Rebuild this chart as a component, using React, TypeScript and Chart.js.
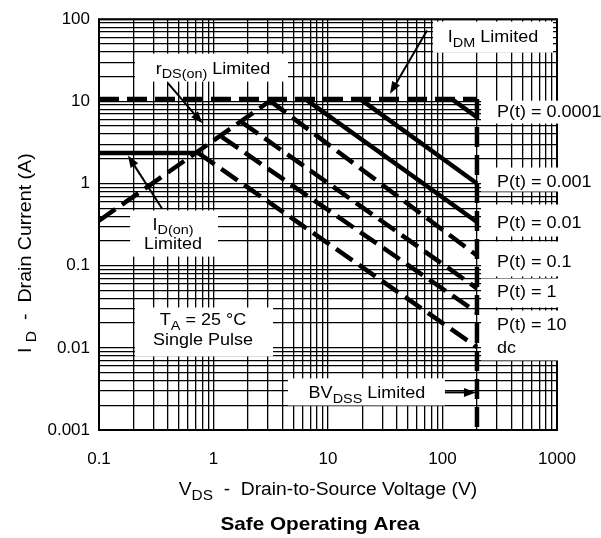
import React, { useEffect, useRef } from 'react';
import { Chart, registerables } from 'chart.js';

Chart.register(...registerables);

const FONT = '"Liberation Sans", Arial, Helvetica, sans-serif';

// ---------- axes ----------
const xMin = 0.1;
const xMax = 1000;
const yMin = 0.001;
const yMax = 100;
const xTickLabels = [0.1, 1, 10, 100, 1000];
const yTickLabels = [0.001, 0.01, 0.1, 1, 10, 100];
const gridSteps = [1, 2, 3, 4, 5, 6, 7, 8, 9];

// ---------- series (VDS in V, ID in A) ----------
const idmV = [0.1, 200];
const idmI = [10.7, 10.7];
const bvdssV = [200, 200];
const bvdssI = [10.7, 0.001];
const rdsV = [0.1, 3.3];
const rdsI = [0.353, 10.7];
const idonV = [0.1, 0.735];
const idonI = [2.36, 2.36];
const p00001V = [120, 200];
const p00001I = [10.7, 6.4];
const p0001V = [19, 200];
const p0001I = [10.7, 1.0];
const p001V = [6.3, 200];
const p001I = [10.7, 0.34];
const p01V = [3.1, 200];
const p01I = [10.2, 0.133];
const p1V = [1.76, 200];
const p1I = [5.6, 0.053];
const p10V = [1.18, 200];
const p10I = [3.7, 0.027];
const dcV = [0.735, 200];
const dcI = [2.36, 0.0102];

// ---------- right-hand P(t) labels ----------
const pLabels = ['P(t) = 0.0001', 'P(t) = 0.001', 'P(t) = 0.01', 'P(t) = 0.1', 'P(t) = 1', 'P(t) = 10', 'dc'];
const pLabelI = [7.73, 1.088, 0.345, 0.1157, 0.0499, 0.0198, 0.0104];
const pLabelV = 299;
const pBoxV = [217, 2421];
const pBoxTop = [10.2, 1.565, 0.555, 0.197, 0.0699, 0.0285];
const pBoxBottom = [5.37, 0.799, 0.2265, 0.0739, 0.031, 0.00703];

type Part = { t: string; sub?: boolean };

const series: { v: number[]; i: number[]; dashed: boolean }[] = [
  { v: idmV, i: idmI, dashed: true },
  { v: bvdssV, i: bvdssI, dashed: true },
  { v: rdsV, i: rdsI, dashed: true },
  { v: idonV, i: idonI, dashed: false },
  { v: p00001V, i: p00001I, dashed: false },
  { v: p0001V, i: p0001I, dashed: false },
  { v: p001V, i: p001I, dashed: false },
  { v: p01V, i: p01I, dashed: true },
  { v: p1V, i: p1I, dashed: true },
  { v: p10V, i: p10I, dashed: true },
  { v: dcV, i: dcI, dashed: true },
];

// annotation boxes / texts / arrows, in data coordinates (V, A)
const boxes: { v: number[]; i: number[] }[] = [
  { v: [0.206, 4.47], i: [17.4, 38.1] }, // rDS(on)
  { v: [82.6, 923], i: [39.2, 93.5] }, // IDM
  { v: [0.187, 1.094], i: [0.129, 0.47] }, // ID(on)
  { v: [0.206, 3.31], i: [0.00786, 0.031] }, // TA
  { v: [4.47, 105], i: [0.00199, 0.00425] }, // BVDSS
];

const texts: { parts: Part[]; v: number; i: number }[] = [
  { parts: [{ t: 'r' }, { t: 'DS(on)', sub: true }, { t: ' Limited' }], v: 0.99, i: 25.8 },
  { parts: [{ t: 'I' }, { t: 'DM', sub: true }, { t: ' Limited' }], v: 276, i: 62.3 },
  { parts: [{ t: 'I' }, { t: 'D(on)', sub: true }], v: 0.443, i: 0.326 },
  { parts: [{ t: 'Limited' }], v: 0.443, i: 0.1915 },
  { parts: [{ t: 'T' }, { t: 'A', sub: true }, { t: ' = 25 °C' }], v: 0.81, i: 0.0222 },
  { parts: [{ t: 'Single Pulse' }], v: 0.81, i: 0.0127 },
  { parts: [{ t: 'BV' }, { t: 'DSS', sub: true }, { t: ' Limited' }], v: 21.9, i: 0.00287 },
];

const arrows: { from: number[]; to: number[] }[] = [
  { from: [0.4, 16.7], to: [0.8, 5.4] },
  { from: [0.355, 0.496], to: [0.179, 2.19] },
  { from: [73.2, 72.7], to: [34.8, 12.4] },
  { from: [105, 0.00287], to: [196, 0.00287] },
];

function buildTicks(min: number, max: number) {
  const vals: number[] = [];
  for (let d = min; d < max * 0.999; d *= 10) {
    for (const k of gridSteps) vals.push(Number((k * d).toPrecision(6)));
  }
  vals.push(max);
  return vals.map((v) => ({ value: v }));
}

function isLabel(list: number[], v: number) {
  return list.some((t) => Math.abs(t - v) / t < 1e-6);
}

function drawRich(
  ctx: CanvasRenderingContext2D,
  parts: Part[],
  x: number,
  y: number,
  align: 'left' | 'center',
  size = 17,
  sx = 1.06,
  bold = false
) {
  const subSize = size * 0.8;
  const fontOf = (p: Part) => `${bold ? 'bold ' : ''}${p.sub ? subSize : size}px ${FONT}`;
  let w = 0;
  const widths = parts.map((p) => {
    ctx.font = fontOf(p);
    const m = ctx.measureText(p.t).width * sx;
    w += m;
    return m;
  });
  let cx = align === 'center' ? x - w / 2 : x;
  const base = y + (size * 0.716) / 2;
  ctx.textAlign = 'left';
  ctx.textBaseline = 'alphabetic';
  ctx.fillStyle = '#000';
  parts.forEach((p, k) => {
    ctx.font = fontOf(p);
    ctx.save();
    ctx.translate(cx, p.sub ? base + size * 0.26 : base);
    ctx.scale(sx, 1);
    ctx.fillText(p.t, 0, 0);
    ctx.restore();
    cx += widths[k];
  });
}

function drawArrow(ctx: CanvasRenderingContext2D, x1: number, y1: number, x2: number, y2: number) {
  const ang = Math.atan2(y2 - y1, x2 - x1);
  const L = 12;
  const H = 4.5;
  ctx.strokeStyle = '#000';
  ctx.lineWidth = 2;
  ctx.setLineDash([]);
  ctx.beginPath();
  ctx.moveTo(x1, y1);
  ctx.lineTo(x2 - Math.cos(ang) * L * 0.8, y2 - Math.sin(ang) * L * 0.8);
  ctx.stroke();
  ctx.fillStyle = '#000';
  ctx.beginPath();
  ctx.moveTo(x2, y2);
  ctx.lineTo(x2 - Math.cos(ang) * L - Math.sin(ang) * H, y2 - Math.sin(ang) * L + Math.cos(ang) * H);
  ctx.lineTo(x2 - Math.cos(ang) * L + Math.sin(ang) * H, y2 - Math.sin(ang) * L - Math.cos(ang) * H);
  ctx.closePath();
  ctx.fill();
}

const annotationPlugin = {
  id: 'soaAnnotations',
  beforeDatasetsDraw(chart: any) {
    const { ctx, chartArea, scales } = chart;
    const xs = scales.x;
    const ys = scales.y;
    ctx.save();
    // plot frame
    ctx.strokeStyle = '#000';
    ctx.lineWidth = 2;
    ctx.setLineDash([]);
    ctx.strokeRect(chartArea.left, chartArea.top, chartArea.right - chartArea.left, chartArea.bottom - chartArea.top);
    // white label boxes
    ctx.fillStyle = '#fff';
    const rect = (v: number[], i: number[]) => {
      const x1 = xs.getPixelForValue(v[0]);
      const x2 = xs.getPixelForValue(v[1]);
      const y1 = ys.getPixelForValue(i[1]);
      const y2 = ys.getPixelForValue(i[0]);
      ctx.fillRect(x1, y1, x2 - x1, y2 - y1);
    };
    boxes.forEach((b) => rect(b.v, b.i));
    pBoxTop.forEach((top, k) => rect(pBoxV, [pBoxBottom[k], top]));
    ctx.restore();
  },
  afterDatasetsDraw(chart: any) {
    const { ctx, scales } = chart;
    const xs = scales.x;
    const ys = scales.y;
    ctx.save();
    texts.forEach((t) => drawRich(ctx, t.parts, xs.getPixelForValue(t.v), ys.getPixelForValue(t.i), 'center'));
    pLabels.forEach((lab, k) =>
      drawRich(ctx, [{ t: lab }], xs.getPixelForValue(pLabelV), ys.getPixelForValue(pLabelI[k]), 'left')
    );
    arrows.forEach((a) =>
      drawArrow(
        ctx,
        xs.getPixelForValue(a.from[0]),
        ys.getPixelForValue(a.from[1]),
        xs.getPixelForValue(a.to[0]),
        ys.getPixelForValue(a.to[1])
      )
    );
    ctx.restore();
  },
  afterDraw(chart: any) {
    const { ctx, chartArea } = chart;
    ctx.save();
    const cx = (chartArea.left + chartArea.right) / 2;
    drawRich(
      ctx,
      [{ t: 'V' }, { t: 'DS', sub: true }, { t: '  -  Drain-to-Source Voltage (V)' }],
      cx,
      chartArea.bottom + 59,
      'center',
      17.5,
      1.1
    );
    drawRich(ctx, [{ t: 'Safe Operating Area' }], cx - 8, chartArea.bottom + 93, 'center', 18.5, 1.12, true);
    ctx.translate(25, chartArea.top + 234);
    ctx.rotate(-Math.PI / 2);
    drawRich(ctx, [{ t: 'I ' }, { t: 'D', sub: true }, { t: '  -  Drain Current (A)' }], 0, 0, 'center', 17.5, 1.12);
    ctx.restore();
  },
};

export default function App() {
  const canvasRef = useRef<HTMLCanvasElement | null>(null);

  useEffect(() => {
    const canvas = canvasRef.current;
    if (!canvas) return;
    const chart = new Chart(canvas, {
      type: 'line',
      data: {
        datasets: series.map((s) => ({
          data: s.v.map((x, k) => ({ x, y: s.i[k] })),
          borderColor: '#000',
          backgroundColor: '#000',
          borderWidth: 4.5,
          borderDash: s.dashed ? [20, 8] : [],
          borderCapStyle: 'butt',
          pointRadius: 0,
          fill: false,
          tension: 0,
        })),
      },
      options: {
        animation: false,
        responsive: false,
        parsing: false as any,
        layout: { padding: { top: 19, right: 44, left: 0, bottom: 0 } },
        plugins: { legend: { display: false }, tooltip: { enabled: false }, title: { display: false } },
        scales: {
          x: {
            type: 'logarithmic',
            min: xMin,
            max: xMax,
            afterBuildTicks: (s: any) => {
              s.ticks = buildTicks(xMin, xMax);
            },
            afterFit: (s: any) => {
              s.height = 108;
            },
            ticks: {
              autoSkip: false,
              maxRotation: 0,
              padding: 19,
              color: '#000',
              font: { family: FONT, size: 17 },
              callback: (v: any) => (isLabel(xTickLabels, Number(v)) ? String(Number(v)) : ''),
            },
            grid: { color: '#000', lineWidth: 1.3, drawTicks: false },
            border: { display: false },
          },
          y: {
            type: 'logarithmic',
            min: yMin,
            max: yMax,
            afterBuildTicks: (s: any) => {
              s.ticks = buildTicks(yMin, yMax);
            },
            afterFit: (s: any) => {
              s.width = 99;
            },
            ticks: {
              autoSkip: false,
              padding: 9,
              color: '#000',
              font: { family: FONT, size: 17 },
              callback: (v: any) => (isLabel(yTickLabels, Number(v)) ? String(Number(v)) : ''),
            },
            grid: { color: '#000', lineWidth: 1.3, drawTicks: false },
            border: { display: false },
          },
        },
      } as any,
      plugins: [annotationPlugin],
    });
    return () => chart.destroy();
  }, []);

  return (
    <div style={{ position: 'absolute', left: 0, top: 0, width: 601, height: 538, background: '#fff' }}>
      <canvas ref={canvasRef} width={601} height={538} style={{ display: 'block', width: 601, height: 538 }} />
    </div>
  );
}
